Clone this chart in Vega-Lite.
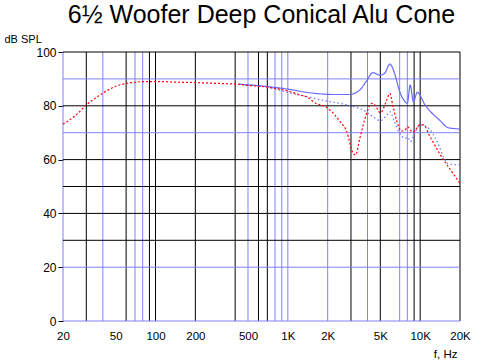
{
  "$schema": "https://vega.github.io/schema/vega-lite/v6.json",
  "autosize": "none",
  "width": 397,
  "height": 269,
  "padding": {"left": 63, "top": 52, "right": 22, "bottom": 40},
  "background": "white",
  "config": {"view": {"stroke": null}, "font": "Liberation Sans"},
  "title": {"text": "6½ Woofer Deep Conical Alu Cone", "font": "Liberation Sans", "fontSize": 25, "fontWeight": "normal", "color": "black", "anchor": "middle", "baseline": "alphabetic", "offset": -15},
  "datasets": {
    "vblack": [{"f": 30}, {"f": 60}, {"f": 90}, {"f": 100}, {"f": 200}, {"f": 400}, {"f": 600}, {"f": 700}, {"f": 3000}, {"f": 5000}, {"f": 9000}, {"f": 10000}, {"f": 20000}],
    "vblue": [{"f": 20}, {"f": 40}, {"f": 70}, {"f": 80}, {"f": 500}, {"f": 800}, {"f": 900}, {"f": 1000}, {"f": 2000}, {"f": 4000}, {"f": 7000}, {"f": 8000}],
    "hblack": [{"d": 100}, {"d": 80}, {"d": 60}, {"d": 50}, {"d": 40}, {"d": 30}],
    "hblue": [{"d": 90}, {"d": 70}, {"d": 20}, {"d": 0}],
    "curves": [
      {"s": "up", "f": 430, "db": 88.0}, {"s": "up", "f": 600, "db": 87.5}, {"s": "up", "f": 780, "db": 86.9}, {"s": "up", "f": 1000, "db": 86.2}, {"s": "up", "f": 1390, "db": 85.0}, {"s": "up", "f": 2210, "db": 84.2}, {"s": "up", "f": 2900, "db": 84.2}, {"s": "up", "f": 3500, "db": 85.9}, {"s": "up", "f": 3900, "db": 89.0}, {"s": "up", "f": 4400, "db": 92.3}, {"s": "up", "f": 5000, "db": 91.4}, {"s": "up", "f": 5400, "db": 92.1}, {"s": "up", "f": 5900, "db": 95.5}, {"s": "up", "f": 6400, "db": 92.1}, {"s": "up", "f": 7000, "db": 85.3}, {"s": "up", "f": 7700, "db": 81.5}, {"s": "up", "f": 8000, "db": 80.9}, {"s": "up", "f": 8400, "db": 87.7}, {"s": "up", "f": 8900, "db": 81.5}, {"s": "up", "f": 9500, "db": 85.0}, {"s": "up", "f": 10900, "db": 80.3}, {"s": "up", "f": 12000, "db": 77.8}, {"s": "up", "f": 14000, "db": 74.7}, {"s": "up", "f": 16400, "db": 71.8}, {"s": "up", "f": 20000, "db": 71.4},
      {"s": "low", "f": 430, "db": 88.0}, {"s": "low", "f": 700, "db": 86.9}, {"s": "low", "f": 1000, "db": 85.0}, {"s": "low", "f": 1390, "db": 83.4}, {"s": "low", "f": 1900, "db": 81.9}, {"s": "low", "f": 2800, "db": 80.3}, {"s": "low", "f": 3900, "db": 77.8}, {"s": "low", "f": 4400, "db": 75.9}, {"s": "low", "f": 5000, "db": 74.5}, {"s": "low", "f": 5600, "db": 76.6}, {"s": "low", "f": 5900, "db": 77.8}, {"s": "low", "f": 6400, "db": 74.1}, {"s": "low", "f": 7000, "db": 69.8}, {"s": "low", "f": 7700, "db": 67.9}, {"s": "low", "f": 8100, "db": 68.3}, {"s": "low", "f": 8400, "db": 66.7}, {"s": "low", "f": 9200, "db": 70.4}, {"s": "low", "f": 10000, "db": 72.9}, {"s": "low", "f": 11200, "db": 72.2}, {"s": "low", "f": 13600, "db": 66.1}, {"s": "low", "f": 15000, "db": 61.0}, {"s": "low", "f": 16400, "db": 58.4}, {"s": "low", "f": 20000, "db": 58.0},
      {"s": "red", "f": 20, "db": 73.2}, {"s": "red", "f": 25, "db": 76.5}, {"s": "red", "f": 30, "db": 80.3}, {"s": "red", "f": 37, "db": 83.6}, {"s": "red", "f": 41.5, "db": 85.2}, {"s": "red", "f": 51, "db": 87.4}, {"s": "red", "f": 62, "db": 88.4}, {"s": "red", "f": 70, "db": 88.7}, {"s": "red", "f": 80, "db": 89.0}, {"s": "red", "f": 110, "db": 89.0}, {"s": "red", "f": 140, "db": 88.8}, {"s": "red", "f": 210, "db": 88.6}, {"s": "red", "f": 300, "db": 88.3}, {"s": "red", "f": 430, "db": 88.0}, {"s": "red", "f": 500, "db": 87.6}, {"s": "red", "f": 600, "db": 87.3}, {"s": "red", "f": 800, "db": 86.5}, {"s": "red", "f": 980, "db": 85.6}, {"s": "red", "f": 1240, "db": 84.0}, {"s": "red", "f": 1430, "db": 83.0}, {"s": "red", "f": 1560, "db": 81.5}, {"s": "red", "f": 2000, "db": 79.1}, {"s": "red", "f": 2210, "db": 77.2}, {"s": "red", "f": 2480, "db": 74.1}, {"s": "red", "f": 2790, "db": 70.4}, {"s": "red", "f": 3100, "db": 62.5}, {"s": "red", "f": 3250, "db": 61.7}, {"s": "red", "f": 3500, "db": 67.9}, {"s": "red", "f": 3900, "db": 76.6}, {"s": "red", "f": 4300, "db": 80.9}, {"s": "red", "f": 4550, "db": 80.3}, {"s": "red", "f": 5000, "db": 77.4}, {"s": "red", "f": 5600, "db": 82.2}, {"s": "red", "f": 5900, "db": 84.6}, {"s": "red", "f": 6200, "db": 80.3}, {"s": "red", "f": 6800, "db": 72.9}, {"s": "red", "f": 7200, "db": 70.6}, {"s": "red", "f": 7700, "db": 71.0}, {"s": "red", "f": 8000, "db": 72.2}, {"s": "red", "f": 8800, "db": 70.2}, {"s": "red", "f": 10000, "db": 72.9}, {"s": "red", "f": 10600, "db": 72.9}, {"s": "red", "f": 11700, "db": 69.1}, {"s": "red", "f": 14000, "db": 62.3}, {"s": "red", "f": 17000, "db": 56.1}, {"s": "red", "f": 20000, "db": 51.2}
    ]
  },
  "layer": [
    {
      "data": {"name": "vblue"},
      "mark": {"type": "rule", "color": "#8080ff", "strokeWidth": 1},
      "encoding": {
        "x": {"field": "f", "type": "quantitative", "scale": {"type": "log", "domain": [20, 20000], "nice": false, "zero": false},
          "axis": {"values": [20, 50, 100, 200, 500, 1000, 2000, 5000, 10000, 20000], "labelExpr": "datum.value >= 1000 ? (datum.value / 1000) + 'K' : datum.value", "grid": false, "domain": false, "ticks": false, "tickSize": 0, "labelPadding": 9, "labelFont": "Liberation Sans", "labelFontSize": 11.5, "labelColor": "black", "labelFlush": false, "labelOverlap": false,
            "title": "f, Hz", "titleFont": "Liberation Sans", "titleFontSize": 11.5, "titleFontWeight": "normal", "titleColor": "black", "titleAlign": "right", "titleBaseline": "alphabetic", "titleX": 394, "titleY": 36}}
      }
    },
    {
      "data": {"name": "vblack"},
      "mark": {"type": "rule", "color": "black", "strokeWidth": 1},
      "encoding": {"x": {"field": "f", "type": "quantitative"}}
    },
    {
      "data": {"name": "hblue"},
      "mark": {"type": "rule", "color": "#8080ff", "strokeWidth": 1},
      "encoding": {
        "y": {"field": "d", "type": "quantitative", "scale": {"domain": [0, 100], "nice": false},
          "axis": {"values": [0, 10, 20, 30, 40, 50, 60, 70, 80, 90, 100], "grid": false, "domain": false, "ticks": true, "tickSize": 5, "tickColor": "black", "labelPadding": 2, "labelFont": "Liberation Sans", "labelFontSize": 12, "labelColor": "black", "labelFlush": false, "labelOverlap": false,
            "title": "dB SPL", "titleFont": "Liberation Sans", "titleFontSize": 11, "titleFontWeight": "normal", "titleColor": "black", "titleAngle": 0, "titleAlign": "left", "titleBaseline": "alphabetic", "titleX": -59, "titleY": -10}}
      }
    },
    {
      "data": {"name": "hblack"},
      "mark": {"type": "rule", "color": "black", "strokeWidth": 1},
      "encoding": {"y": {"field": "d", "type": "quantitative"}}
    },
    {
      "data": {"name": "curves"},
      "mark": {"type": "line", "strokeWidth": 1.2, "interpolate": "monotone"},
      "encoding": {
        "x": {"field": "f", "type": "quantitative"},
        "y": {"field": "db", "type": "quantitative"},
        "detail": {"field": "s"},
        "order": {"field": "f", "type": "quantitative"},
        "color": {"field": "s", "type": "nominal", "scale": {"domain": ["up", "low", "red"], "range": ["#6a6aff", "#7070ff", "#ff0000"]}, "legend": null},
        "strokeDash": {"field": "s", "type": "nominal", "scale": {"domain": ["up", "low", "red"], "range": [[1, 0], [1.5, 2.5], [2, 2]]}, "legend": null}
      }
    }
  ]
}
